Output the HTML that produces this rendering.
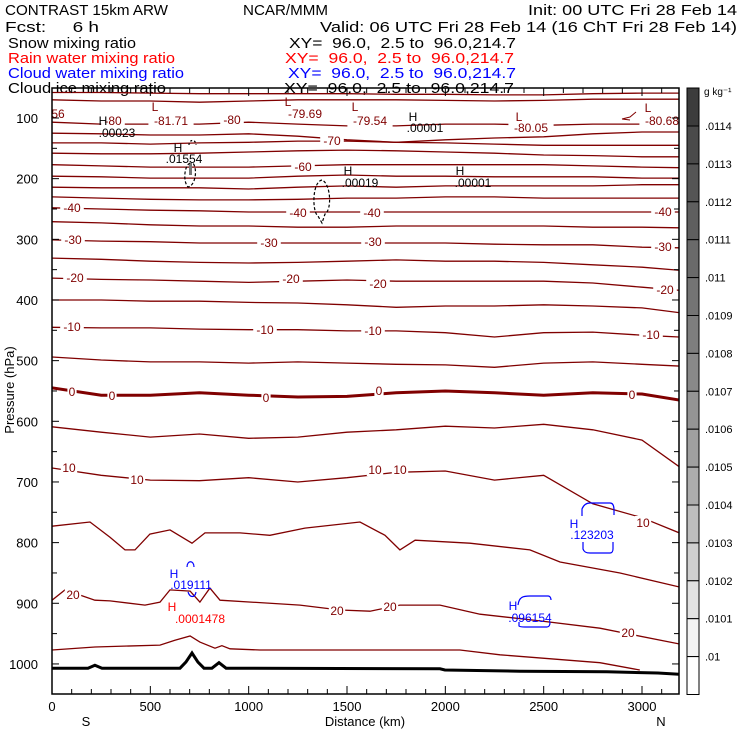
<!DOCTYPE html>
<html><head><meta charset="utf-8"><style>
html,body{margin:0;padding:0;background:#fff;}
svg{display:block;font-family:"Liberation Sans",sans-serif;}
</style></head><body>
<svg id="chart" width="740" height="740" viewBox="0 0 740 740" xmlns="http://www.w3.org/2000/svg">
<g font-size="15" fill="#000">
<text x="5" y="15" textLength="163" lengthAdjust="spacingAndGlyphs">CONTRAST 15km ARW</text>
<text x="243" y="15" textLength="85" lengthAdjust="spacingAndGlyphs">NCAR/MMM</text>
<text x="528" y="15" textLength="209" lengthAdjust="spacingAndGlyphs">Init: 00 UTC Fri 28 Feb 14</text>
<text x="5" y="32" xml:space="preserve" textLength="94" lengthAdjust="spacingAndGlyphs">Fcst:     6 h</text>
<text x="320" y="32" textLength="417" lengthAdjust="spacingAndGlyphs">Valid: 06 UTC Fri 28 Feb 14 (16 ChT Fri 28 Feb 14)</text>
<text x="8" y="48" textLength="128" lengthAdjust="spacingAndGlyphs">Snow mixing ratio</text>
<text x="289" y="48" xml:space="preserve" textLength="227" lengthAdjust="spacingAndGlyphs">XY=  96.0,  2.5 to  96.0,214.7</text>
<text x="8" y="63" fill="#ff0000" textLength="167" lengthAdjust="spacingAndGlyphs">Rain water mixing ratio</text>
<text x="285" y="63" fill="#ff0000" xml:space="preserve" textLength="229" lengthAdjust="spacingAndGlyphs">XY=  96.0,  2.5 to  96.0,214.7</text>
<text x="8" y="78" fill="#0000ff" textLength="176" lengthAdjust="spacingAndGlyphs">Cloud water mixing ratio</text>
<text x="288" y="78" fill="#0000ff" xml:space="preserve" textLength="228" lengthAdjust="spacingAndGlyphs">XY=  96.0,  2.5 to  96.0,214.7</text>
<text x="8" y="93" textLength="158" lengthAdjust="spacingAndGlyphs">Cloud ice mixing ratio</text>
<text x="284" y="93" xml:space="preserve" textLength="230" lengthAdjust="spacingAndGlyphs">XY=  96.0,  2.5 to  96.0,214.7</text>
</g>
<g id="plot"></g>
<g id="axes"></g>
<g id="cbar"></g>
</svg>
<script>
// ---- data ----
const distGrid = [0,250,500,750,1000,1250,1500,1750,2000,2250,2500,2750,3000,3190];
const levelsUpper = [-85,-82,-80,-75,-70,-65,-60,-55,-50,-45,-40,-35,-30,-25,-20,-15,-10,-5,0,5,10];
const pTop1 = [58,58,59,60,60,60,60,61,61,62,62,60,59,59];
const pTop2 = [70,72,72,74,72,70,70,70,71,72,71,69,69,69];
const pM80 = [107,110,110,110,107,110,113,113,110,110,112,110,110,113];
const pM75 = [125,126,128,128,126,130,136,140,136,133,131,126,123,123];
const pM70 = [141,141,143,141,140,138,138,140,141,143,145,145,145,145];
const pM65 = [158,159,159,158,156,154,153,154,156,158,161,162,164,164];
const pM60 = [177,179,181,181,181,179,177,177,177,177,177,179,181,182];
const pM55 = [196,197,199,199,199,196,194,196,196,197,197,197,199,199];
const pM50 = [214,215,215,215,217,214,212,214,212,212,212,212,210,210];
const pM45 = [230,232,234,235,235,234,232,232,230,230,232,232,232,232];
const pM40 = [248,250,252,253,255,255,255,255,255,255,255,255,255,255];
const pM35 = [271,273,276,278,278,280,280,278,278,278,278,280,280,281];
const pM30 = [301,303,304,306,306,306,306,306,306,308,309,309,313,314];
const pM25 = [331,333,336,338,339,338,336,334,336,336,338,342,346,351];
const pM20 = [364,366,367,369,371,369,367,369,369,369,369,372,379,384];
const pM15 = [400,400,402,402,404,405,408,412,410,410,408,410,413,421];
const pM10 = [445,446,446,448,449,449,451,451,454,461,454,453,458,461];
const pM05 = [494,499,502,502,504,502,504,506,507,511,504,502,506,509];
const pZero = [545,557,557,553,557,560,559,553,550,553,557,553,555,565];
const pP05 = [609,618,626,621,628,626,618,614,608,611,605,614,631,675];
const pP10 = [677,689,697,698,693,700,693,684,682,697,689,736,759,784];
const dP15 = [0,193,295,371,422,498,600,712,778,956,1108,1286,1566,1693,1769,1846,2125,2430,2583,2888,3188];
const pP15 = [773,766,791,812,812,786,779,801,784,784,788,776,766,788,812,796,801,812,832,850,873];
const dP20 = [0,66,218,295,473,549,600,702,752,803,854,1261,1464,1617,1769,1973,2176,2481,2786,3188];
const pP20 = [895,878,895,896,903,898,878,880,898,875,895,903,911,913,903,903,918,929,941,967];
const dP25 = [0,218,549,625,702,752,829,864,905,1057,1769,2074,2278,2786,2989];
const pP25 = [977,972,969,961,954,964,974,970,975,977,977,977,985,998,1010];
const dTerrain = [0,183,218,254,651,681,712,742,773,813,849,885,1973,1998,2379,2821,3081,3188];
const pTerrain = [1007,1007,1002,1007,1007,997,982,997,1007,1007,998,1007,1008,1010,1012,1013,1015,1017];
const pTicks = [100,200,300,400,500,600,700,800,900,1000];
const dTicks = [0,500,1000,1500,2000,2500,3000];
const cbarLabels = [".0114",".0113",".0112",".0111",".011",".0109",".0108",".0107",".0106",".0105",".0104",".0103",".0102",".0101",".01"];
const cbarGrays = [60,74,85,95,106,116,126,137,148,160,173,190,208,226,243,255,255];

// ---- scales ----
const X0=52, X1=679, Y0=88, Y1=694;
function xs(d){return 52 + d*0.19667;}
function ys(p){return 118 + (p-100)*0.6066;}
const NS="http://www.w3.org/2000/svg";
const plot=document.getElementById('plot'), axes=document.getElementById('axes'), cbar=document.getElementById('cbar');
function mk(tag,attrs,parent){const e=document.createElementNS(NS,tag);for(const k in attrs)e.setAttribute(k,attrs[k]);parent.appendChild(e);return e;}
function pathFrom(ds,ps){return ds.map((d,i)=>(i?'L':'M')+xs(d).toFixed(1)+','+ys(ps[i]).toFixed(1)).join(' ');}

const defs=mk('defs',{},plot);
const cp=mk('clipPath',{id:'clip'},defs);
mk('rect',{x:X0,y:Y0,width:X1-X0,height:Y1-Y0},cp);
const g=mk('g',{'clip-path':'url(#clip)'},plot);

const upperSeries=[pTop1,pTop2,pM80,pM75,pM70,pM65,pM60,pM55,pM50,pM45,pM40,pM35,pM30,pM25,pM20,pM15,pM10,pM05,pZero,pP05,pP10];
upperSeries.forEach((ps,i)=>{
  const lv=levelsUpper[i];
  const el=mk('path',{d:pathFrom(distGrid,ps),fill:'none',stroke:'#800000','stroke-width':lv===0?3:1.3},g);
  
  
});
[[dP15,pP15,'15'],[dP20,pP20,'20'],[dP25,pP25,'25']].forEach(s=>{
  const el=mk('path',{d:pathFrom(s[0],s[1]),fill:'none',stroke:'#800000','stroke-width':1.3},g);
  
  
});
const terr=mk('path',{d:pathFrom(dTerrain,pTerrain),fill:'none',stroke:'#000','stroke-width':3},g);



const feat=mk('g',{fill:'none','stroke-width':1.2},g);


mk('rect',{x:189,y:163,width:3,height:12,fill:'#777',stroke:'none'},feat);
mk('path',{d:'M190,163 C184,166 183,182 188,187 C195,186 198,170 193,163',stroke:'#000','stroke-dasharray':'3,2'},feat);
mk('path',{d:'M322,180 C312,182 312,212 318,216 L322,223 L325,214 C332,210 331,184 322,180 Z',stroke:'#000','stroke-dasharray':'3,2'},feat);
mk('path',{d:'M189,145 C189,139 196,139 196,145',stroke:'#000','stroke-dasharray':'2,2'},feat);
mk('path',{d:'M187,567 C187,560 194,560 194,567',stroke:'#0000ff'},feat);
mk('path',{d:'M188,592 C190,598 195,598 196,592',stroke:'#0000ff'},feat);
mk('path',{d:'M518,605 C519,597 523,596 530,596 L548,596 C551,596 551,600 551,600',stroke:'#0000ff'},feat);
mk('path',{d:'M519,622 L519,626 C520,627 522,627 525,627 L547,627 C549,627 550,625 550,622',stroke:'#0000ff'},feat);
mk('path',{d:'M582,516 L582,509 C584,504 587,503 590,503 L610,503 C613,503 614,506 614,510 L614,515',stroke:'#0000ff'},feat);
mk('path',{d:'M583,542 L583,549 C584,552 586,553 590,553 L610,553 C612,553 613,551 613,549 L613,542',stroke:'#0000ff'},feat);

const labs=[[53,118,'2.56'],[113,125,'-80'],[171,125,'-81.71'],[232,124,'-80'],[305,118,'-79.69'],[370,125,'-79.54'],[531,132,'-80.05'],[662,125,'-80.68'],
[332,145,'-70'],[303,171,'-60'],[72,212,'-40'],[298,217,'-40'],[372,217,'-40'],[663,216,'-40'],
[73,244,'-30'],[269,247,'-30'],[373,246,'-30'],[663,251,'-30'],[75,282,'-20'],[291,283,'-20'],[378,288,'-20'],[665,294,'-20'],
[72,331,'-10'],[265,334,'-10'],[373,335,'-10'],[651,339,'-10'],[72,396,'0'],[112,400,'0'],[266,402,'0'],[379,395,'0'],[632,399,'0'],
[69,472,'10'],[137,484,'10'],[375,474,'10'],[400,474,'10'],[643,527,'10'],[73,599,'20'],[337,615,'20'],[390,611,'20'],[628,637,'20']];
labs.forEach(l=>{
  const w=l[2].length*7.2+2;
  mk('rect',{x:l[0]-w/2,y:l[1]-11,width:w,height:13,fill:'#fff'},g);
  const t=mk('text',{x:l[0],y:l[1],'text-anchor':'middle','font-size':12,fill:'#800000'},g);
  t.textContent=l[2];
  
  
});
const marks=[[155,111,'L','#800000'],[288,106,'L','#800000'],[355,111,'L','#800000'],[519,121,'L','#800000'],[648,112,'L','#800000'],
[103,125,'H','#000'],[117,137,'.00023','#000'],[413,121,'H','#000'],[425,132,'.00001','#000'],[178,152,'H','#000'],[184,163,'.01554','#000'],
[348,175,'H','#000'],[360,187,'.00019','#000'],[460,175,'H','#000'],[473,187,'.00001','#000'],
[174,578,'H','#0000ff'],[191,589,'.019111','#0000ff'],[172,611,'H','#ff0000'],[200,623,'.0001478','#ff0000'],
[513,610,'H','#0000ff'],[530,622,'.096154','#0000ff'],[574,528,'H','#0000ff'],[592,539,'.123203','#0000ff']];
marks.forEach(m=>{
  const t=mk('text',{x:m[0],y:m[1],'text-anchor':'middle','font-size':12,fill:m[3]},g);
  t.textContent=m[2];
  
  
});
mk('path',{d:'M622,119 L630,117 L636,112 M622,119 L630,120',stroke:'#800000',fill:'none'},g);

mk('rect',{x:X0,y:Y0,width:X1-X0,height:Y1-Y0,fill:'none',stroke:'#000','stroke-width':1.5},axes);
for(let p=50;p<=1050;p+=50){
  const y=ys(p); if(y<Y0||y>Y1)continue;
  const len=p%100===0?7:5;
  mk('line',{x1:X0,y1:y,x2:X0+len,y2:y,stroke:'#000'},axes);
  mk('line',{x1:X1,y1:y,x2:X1-len,y2:y,stroke:'#000'},axes);
}
for(let d=0;d<=3150;d+=100){
  const x=xs(d); const len=d%500===0?8:5;
  mk('line',{x1:x,y1:Y1,x2:x,y2:Y1-len,stroke:'#000'},axes);
  mk('line',{x1:x,y1:Y0,x2:x,y2:Y0+len,stroke:'#000'},axes);
}
pTicks.forEach(p=>{
  const t=mk('text',{x:38,y:ys(p)+5,'text-anchor':'end','font-size':13},axes);
  t.textContent=p;
  
  
});
dTicks.forEach(d=>{
  const t=mk('text',{x:xs(d),y:711,'text-anchor':'middle','font-size':13},axes);
  t.textContent=d;
  
  
});
const yt=mk('text',{x:14,y:390,'text-anchor':'middle','font-size':13,transform:'rotate(-90 14 390)'},axes);
yt.textContent='Pressure (hPa)';


const xt=mk('text',{x:365,y:726,'text-anchor':'middle','font-size':13},axes);
xt.textContent='Distance (km)';


const sl=mk('text',{x:86,y:726,'text-anchor':'middle','font-size':13},axes);
sl.textContent='S';


const nl=mk('text',{x:661,y:726,'text-anchor':'middle','font-size':13},axes);
nl.textContent='N';



const CB0=88, CBstep=37.9, CBx=687, CBw=12;
cbarGrays.forEach((gv,i)=>{
  const y=i===0?CB0:126+(i-1)*CBstep;
  const h=i===0?126-CB0:(i===cbarGrays.length-1?Y1-y:CBstep);
  const r=mk('rect',{x:CBx,y:y,width:CBw,height:h,fill:'rgb('+gv+','+gv+','+gv+')',stroke:'#000','stroke-width':1},cbar);
  
  
});
cbarLabels.forEach((l,i)=>{
  const t=mk('text',{x:705,y:126+i*CBstep+4,'font-size':11},cbar);
  t.textContent=l;
  
  
});
const un=mk('text',{x:704,y:95,'font-size':10},cbar);
un.textContent='g kg\u207B\u00B9';


</script>
</body></html>
